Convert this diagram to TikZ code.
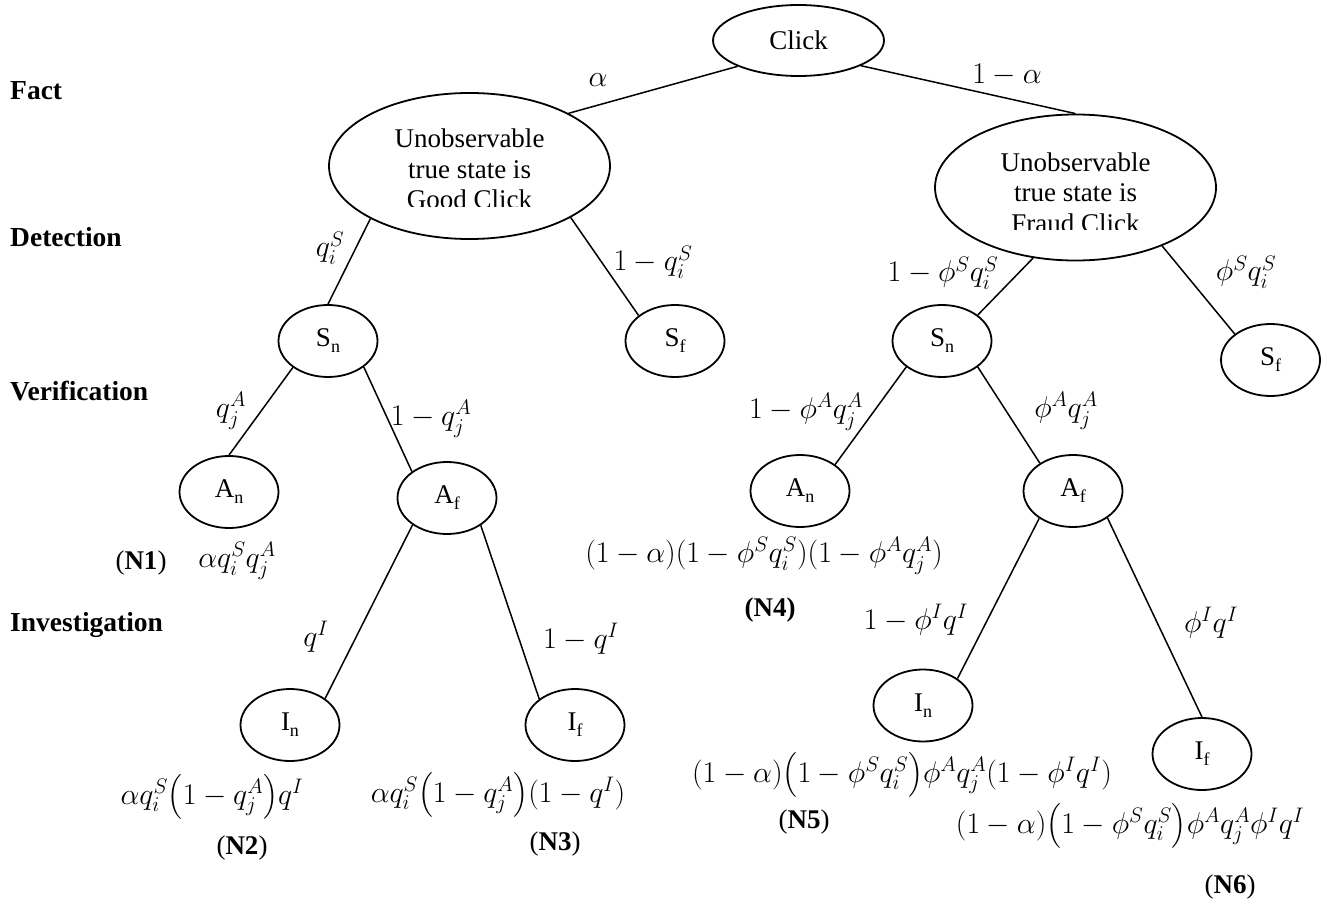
\documentclass[tikz,border=0pt]{standalone}
\usepackage{fix-cm}
\usepackage{amsmath}
\usepackage{fontspec}
\setmainfont{Liberation Serif}
\usetikzlibrary{shapes.geometric}
\newcommand{\lsub}[2]{#1\raisebox{-0.22em}{\fontsize{18}{18}\selectfont #2}}
\newcommand{\threeline}[3]{\begin{tabular}[t]{@{}c@{}}#1\\ #2\\ #3\end{tabular}}
\tikzset{
  every node/.style={font=\fontsize{27}{30.5}\selectfont, inner sep=0pt},
  el/.style={draw, ellipse, line width=1.8pt, minimum width=99pt, minimum height=72pt, inner sep=0pt},
  bigel/.style={el, minimum width=281pt, minimum height=146pt},
  clickel/.style={el, minimum width=171pt, minimum height=71pt},
  edge/.style={line width=1.5pt},
  hdr/.style={font=\fontsize{27.5}{30}\selectfont\bfseries, anchor=base west},
  mlbl/.style={font=\fontsize{30}{32}\selectfont},
}
\begin{document}
\begin{tikzpicture}[x=1pt, y=-1pt]
\useasboundingbox (0,0) rectangle (1330,909);

% stage headers
\node[hdr] (hfact) at (10,100) {Fact};
\node[hdr] (hdet) at (10,247) {Detection};
\node[hdr] (hver) at (10,400) {Verification};
\node[hdr] (hinv) at (10,631) {Investigation};

% root
\node[clickel] (click) at (798.5,40.5) {Click};

% fact nodes
\node[bigel] (good) at (469.5,166) {};
\begin{scope}
  \clip (330,90) rectangle (610,207);
  \node[anchor=base] (goodtxt) at (469.5,148) {\threeline{Unobservable}{true state is}{Good Click}};
\end{scope}
\node[bigel] (fraud) at (1075.5,187.5) {};
\begin{scope}
  \clip (936,111) rectangle (1215,230);
  \node[anchor=base] (fraudtxt) at (1075.5,171.5) {\threeline{Unobservable}{true state is}{Fraud Click}};
\end{scope}

% detection nodes
\node[el] (sn1) at (328,341) {\lsub{S}{n}};
\node[el] (sf1) at (675,341) {\lsub{S}{f}};
\node[el] (sn2) at (942,341) {\lsub{S}{n}};
\node[el] (sf2) at (1270.5,360) {\lsub{S}{f}};

% verification nodes
\node[el] (an1) at (229,492) {\lsub{A}{n}};
\node[el] (af1) at (447,498) {\lsub{A}{f}};
\node[el] (an2) at (800,491) {\lsub{A}{n}};
\node[el] (af2) at (1073,491) {\lsub{A}{f}};

% investigation nodes
\node[el] (in1) at (290,725) {\lsub{I}{n}};
\node[el] (if1) at (575,725) {\lsub{I}{f}};
\node[el] (in2) at (923,705.5) {\lsub{I}{n}};
\node[el] (if2) at (1202,754) {\lsub{I}{f}};

% connectors
\draw[edge] (click.203) -- (good.28);
\draw[edge] (click.338) -- (fraud.90);
\draw[edge] (good.208) -- (sn1.90);
\draw[edge] (good.333) -- (sf1.145);
\draw[edge] (fraud.239) -- (sn2.36);
\draw[edge] (fraud.326) -- (sf2.144);
\draw[edge] (sn1.217) -- (an1.90);
\draw[edge] (sn1.324) -- (af1.143);
\draw[edge] (af1.218) -- (in1.37);
\draw[edge] (af1.321) -- (if1.144);
\draw[edge] (sn2.216) -- (an2.37);
\draw[edge] (sn2.324) -- (af2.140);
\draw[edge] (af2.219) -- (in2.38);
\draw[edge] (af2.322) -- (if2.90);

% branch probabilities
\node[mlbl] (lalpha) at (598,80) {$\alpha$};
\node[mlbl] (lnalpha) at (1007,75) {$1-\alpha$};
\node[mlbl] (lqs) at (330,248) {$q_i^S$};
\node[mlbl] (lnqs) at (653,262) {$1-q_i^S$};
\node[mlbl] (lnfs) at (943,273) {$1-\phi^S q_i^S$};
\node[mlbl] (lfs) at (1246,272) {$\phi^S q_i^S$};
\node[mlbl] (lqa) at (231,411) {$q_j^A$};
\node[mlbl] (lnqa) at (431,419) {$1-q_j^A$};
\node[mlbl] (lnfa) at (806,412) {$1-\phi^A q_j^A$};
\node[mlbl] (lfa) at (1066,411) {$\phi^A q_j^A$};
\node[mlbl] (lqi) at (316,637) {$q^I$};
\node[mlbl] (lnqi) at (581,639) {$1-q^I$};
\node[mlbl] (lnfi) at (916,620) {$1-\phi^I q^I$};
\node[mlbl] (lfi) at (1211,623) {$\phi^I q^I$};

% outcome probabilities
\node[mlbl] (p1) at (237,561) {$\alpha q_i^S q_j^A$};
\node (n1) at (141,563) {(\textbf{N1})};
\node[mlbl] (p2) at (212,797) {$\alpha q_i^S\bigl(1-q_j^A\bigr)q^I$};
\node (n2) at (242,848) {(\textbf{N2})};
\node[mlbl] (p3) at (498,795) {$\alpha q_i^S\bigl(1-q_j^A\bigr)(1-q^I)$};
\node (n3) at (555,844) {(\textbf{N3})};
\node[mlbl] (p4) at (764,556) {$(1-\alpha)(1-\phi^S q_i^S)(1-\phi^A q_j^A)$};
\node (n4) at (770,610) {\textbf{(N4)}};
\node[mlbl] (p5) at (902,775) {$(1-\alpha)\bigl(1-\phi^S q_i^S\bigr)\phi^A q_j^A(1-\phi^I q^I)$};
\node (n5) at (804,822) {(\textbf{N5})};
\node[mlbl] (p6) at (1130,826) {$(1-\alpha)\bigl(1-\phi^S q_i^S\bigr)\phi^A q_j^A\phi^I q^I$};
\node (n6) at (1230,887) {(\textbf{N6})};
\end{tikzpicture}
\end{document}
